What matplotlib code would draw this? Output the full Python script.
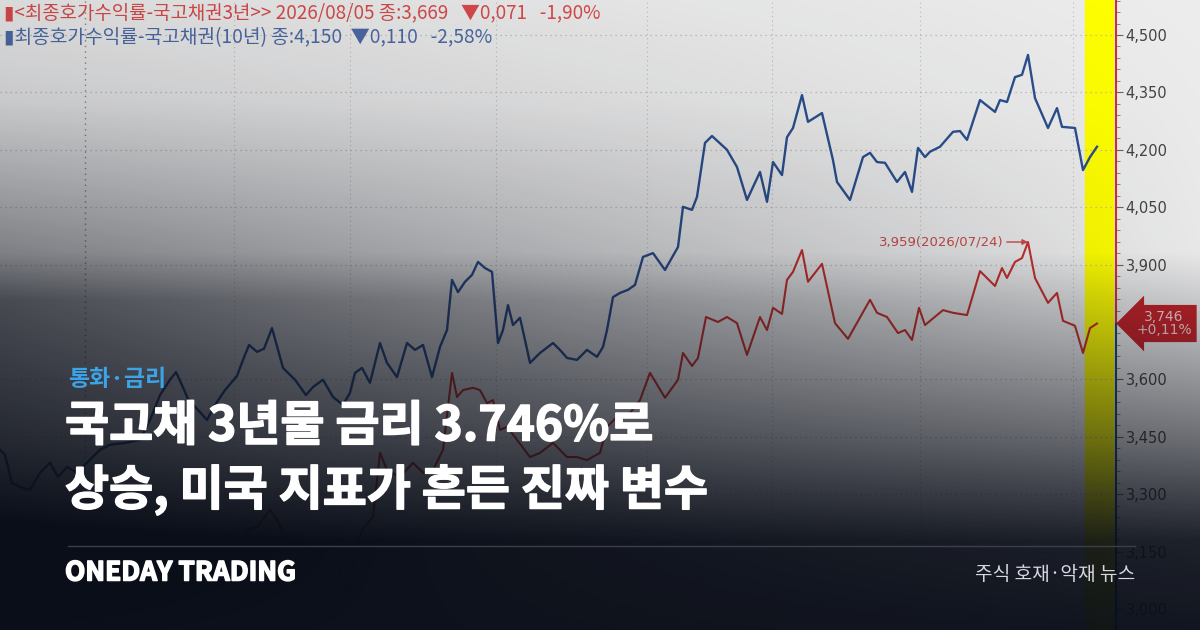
import numpy as np
import matplotlib.pyplot as plt
import matplotlib.patheffects as pe
from matplotlib.lines import Line2D
from matplotlib.ticker import MultipleLocator, FixedLocator, FixedFormatter
from matplotlib.transforms import blended_transform_factory

plt.rcParams['font.family'] = ['Noto Sans CJK KR', 'DejaVu Sans']

# 3-year KTB yield (red), position along the chart in sessions
t_3y = [0, 0.7, 1.5, 2.0, 3.3, 5.0, 6.5, 8.0, 9.5, 11.0,
        12.5, 14.0, 14.7, 16.0, 17.3, 18.2, 19.3, 20.0, 21.5, 23.3,
        24.7, 25.7, 27.0, 27.7, 28.7, 29.3, 30.0, 30.7, 31.7, 33.0,
        34.0, 34.7, 35.5, 36.2, 37.3, 38.0, 38.7, 40.0, 41.3,
        42.3, 43.3, 44.3, 45.2, 45.7, 46.3, 47.3, 48.0, 48.7, 49.3,
        50.0, 50.7, 51.7, 53.0, 54.0, 55.3, 56.7, 57.7, 58.7, 60.0,
        60.7, 61.7, 63.0, 64.0, 65.0, 66.5, 67.8, 68.3, 69.2, 69.8,
        70.6, 71.8, 72.7, 73.7, 74.7, 76.0, 76.7, 77.3, 78.2, 78.7,
        79.3, 80.2, 80.8, 82.2, 83.5, 84.8, 87.0, 87.7, 88.7, 89.8,
        90.5, 91.2, 91.9, 92.5, 94.3, 95.3, 96.7, 98.0, 99.5, 100.2,
        100.7, 101.5, 102.2, 102.8, 103.5, 104.8, 105.7, 106.3, 107.5, 108.3,
        109.0, 109.7]
ktb_3y = [3.050, 3.042, 2.997, 2.963, 2.979, 2.945, 2.958, 2.984, 2.958, 2.997,
          3.024, 3.050, 3.084, 3.115, 3.180, 3.128, 3.136, 3.120, 3.141, 3.154,
          3.207, 3.214, 3.259, 3.233, 3.180, 3.154, 3.173, 3.162, 3.146, 3.159,
          3.102, 3.042, 3.136, 3.207, 3.240, 3.408, 3.363, 3.345, 3.382,
          3.356, 3.363, 3.416, 3.617, 3.554, 3.572, 3.578, 3.572, 3.538, 3.546,
          3.468, 3.476, 3.442, 3.397, 3.408, 3.434, 3.397, 3.397, 3.389, 3.408,
          3.476, 3.502, 3.512, 3.546, 3.617, 3.552, 3.599, 3.669, 3.635, 3.656,
          3.763, 3.750, 3.763, 3.747, 3.664, 3.763, 3.729, 3.787, 3.771, 3.860,
          3.881, 3.938, 3.855, 3.902, 3.747, 3.706, 3.808, 3.774, 3.763, 3.721,
          3.729, 3.703, 3.787, 3.742, 3.781, 3.774, 3.768, 3.883, 3.844, 3.891,
          3.865, 3.907, 3.917, 3.959, 3.865, 3.800, 3.826, 3.753, 3.740, 3.669,
          3.734, 3.746]

# 10-year KTB yield (blue)
t_10y = [0, 0.5, 1.2, 2.0, 3.0, 4.0, 5.0, 5.8, 6.7, 7.7,
         8.7, 10.0, 11.0, 12.5, 14.0, 15.0, 16.0, 17.0, 17.6, 18.2,
         18.8, 19.8, 20.7, 21.5, 22.5, 23.7, 24.3, 24.9, 25.7, 26.4,
         27.2, 27.8, 28.3, 29.5, 30.6, 31.3, 32.3, 33.3, 34.3, 35.0,
         35.5, 36.2, 37.0, 38.0, 38.7, 39.7, 40.7, 41.5, 42.3, 43.2,
         44.0, 44.7, 45.2, 45.8, 46.5, 47.2, 47.8, 48.5, 49.2, 49.8,
         50.3, 50.8, 51.3, 52.0, 52.5, 53.0, 54.0, 55.3, 56.0, 56.7,
         57.7, 58.7, 59.7, 60.3, 60.7, 61.3, 62.0, 62.8, 63.5, 64.3,
         65.3, 66.5, 67.8, 68.3, 69.2, 69.7, 70.5, 71.2, 72.7, 73.7,
         74.7, 76.0, 76.7, 77.3, 78.2, 78.7, 79.3, 80.2, 80.8, 82.2,
         83.3, 83.7, 85.0, 86.3, 87.0, 87.7, 88.5, 89.7, 90.5, 91.2,
         91.8, 92.5, 93.0, 94.0, 95.3, 96.0, 96.7, 98.0, 99.5, 100.0,
         100.7, 101.5, 102.2, 102.8, 103.5, 104.8, 105.7, 106.2, 107.5, 108.3,
         109.0, 109.7]
ktb_10y = [3.416, 3.403, 3.329, 3.319, 3.311, 3.356, 3.382, 3.345, 3.371, 3.356,
           3.382, 3.416, 3.429, 3.434, 3.442, 3.494, 3.559, 3.599, 3.619, 3.585,
           3.549, 3.520, 3.494, 3.533, 3.572, 3.609, 3.651, 3.690, 3.672, 3.680,
           3.734, 3.677, 3.630, 3.599, 3.559, 3.580, 3.599, 3.554, 3.533, 3.565,
           3.617, 3.630, 3.591, 3.695, 3.643, 3.606, 3.695, 3.677, 3.690, 3.606,
           3.685, 3.729, 3.860, 3.828, 3.855, 3.873, 3.907, 3.891, 3.881, 3.695,
           3.729, 3.794, 3.742, 3.761, 3.703, 3.643, 3.669, 3.695, 3.677, 3.656,
           3.651, 3.677, 3.659, 3.685, 3.729, 3.815, 3.826, 3.834, 3.847, 3.920,
           3.930, 3.886, 3.946, 4.051, 4.043, 4.077, 4.218, 4.236, 4.200, 4.155,
           4.069, 4.142, 4.064, 4.168, 4.134, 4.233, 4.257, 4.343, 4.273, 4.296,
           4.173, 4.116, 4.069, 4.181, 4.192, 4.168, 4.166, 4.116, 4.142, 4.090,
           4.205, 4.181, 4.195, 4.208, 4.247, 4.249, 4.226, 4.330, 4.299, 4.330,
           4.325, 4.390, 4.396, 4.448, 4.335, 4.257, 4.309, 4.260, 4.257, 4.147,
           4.181, 4.208]

y_ticks = [3.000, 3.150, 3.300, 3.450, 3.600, 3.900, 4.050, 4.200, 4.350, 4.500]
y_tick_labels = [f"{v:.3f}".replace('.', ',') for v in y_ticks]
v_grid = [8.5, 23.4, 35.0, 49.6, 64.7, 77.2, 92.0, 107.3]

last_3y = 3.746
peak_3y, peak_t = 3.959, 102.8

legend_3y = "▮<최종호가수익률-국고채권3년>> 2026/08/05 종:3,669   ▼0,071   -1,90%"
legend_10y = "▮최종호가수익률-국고채권(10년) 종:4,150  ▼0,110   -2,58%"

RED = '#c8302c'
BLUE = '#2b4f8e'
BG = '#ececec'

fig = plt.figure(figsize=(12, 6.3), dpi=100, facecolor=BG)
ax = fig.add_axes([0, 0, 1116 / 1200, 1])
ax.set_facecolor(BG)
ax.set_xlim(0, 111.6)
ax.set_ylim(2.945, 4.5915)

for s in ax.spines.values():
    s.set_visible(False)

ax.yaxis.tick_right()
ax.yaxis.set_major_locator(FixedLocator(y_ticks))
ax.yaxis.set_major_formatter(FixedFormatter(y_tick_labels))
ax.yaxis.set_minor_locator(MultipleLocator(0.03))
ax.tick_params(axis='y', which='major', direction='out', length=5, color='#666',
               labelcolor='#444', labelsize=10.5, pad=2)
ax.tick_params(axis='y', which='minor', direction='out', length=3, color='#777')
for lab in ax.get_yticklabels():
    lab.set_family(['Liberation Sans Narrow', 'DejaVu Sans'])
ax.set_xticks([])

ax.grid(axis='y', which='major', ls=(0, (1, 3)), color='#b5b5b5', lw=0.9)
for i, xv in enumerate(v_grid):
    ax.axvline(xv, ls=(0, (1, 3)), color='#888' if i == 0 else '#bdbdbd', lw=1.0 if i == 0 else 0.8, zorder=0.5)

ax.axvspan(108.5, 111.3, color='#ffff00', zorder=1)

ax.plot(t_10y, ktb_10y, color=BLUE, lw=1.7, zorder=3)
ax.plot(t_3y, ktb_3y, color=RED, lw=1.5, zorder=3)

# right axis line: red above the current value, dark below
y0, y1 = ax.get_ylim()
frac = (last_3y - y0) / (y1 - y0)
ax.axvline(111.6, ymin=frac, ymax=1, color='#d03030', lw=1.5, clip_on=False, zorder=4)
ax.axvline(111.6, ymin=0, ymax=frac, color='#1d4a5a', lw=1.5, clip_on=False, zorder=4)

ax.annotate("3,959(2026/07/24)", xy=(peak_t, peak_3y), xytext=(100.4, peak_3y),
            ha='right', va='center', fontsize=9.5, color='#cc4a4a',
            family=['Liberation Sans Narrow', 'DejaVu Sans'],
            arrowprops=dict(arrowstyle='-|>', color='#cc4a4a', lw=1, mutation_scale=8,
                            shrinkA=0, shrinkB=0))

trans = blended_transform_factory(ax.transAxes, ax.transData)
ax.text(1.043, last_3y, "3,746\n+0,11%", transform=trans, ha='center', va='center',
        fontsize=10, color='#f6d6d6', linespacing=0.95, clip_on=False,
        family=['Liberation Sans Narrow', 'DejaVu Sans'], zorder=5,
        bbox=dict(boxstyle='larrow,pad=0.35', fc='#c42228', ec='none'))

ax.text(0.004, 1 - 13 / 630, legend_3y, transform=ax.transAxes, ha='left', va='center',
        fontsize=13.6, color='#d94a4a')
ax.text(0.004, 1 - 38 / 630, legend_10y, transform=ax.transAxes, ha='left', va='center',
        fontsize=13.8, color='#4d6aa6')

# dark gradient overlay
H, W = 630, 1200
yy, xx = np.mgrid[0:H, 0:W]
u = yy / (H - 1)
w = xx / (W - 1)
av = np.interp(u, [0, 0.40, 0.70, 0.86, 1], [0, 0.02, 0.58, 0.92, 0.97])
sv = np.interp(u, [0, 0.16, 0.476, 0.714, 0.87, 1], [0.08, 0.15, 0.57, 0.29, 0.1, 0.03])
alpha = np.clip(av + sv * (1 - w), 0, 1)
img = np.zeros((H, W, 4))
img[..., 0] = 10 / 255
img[..., 1] = 14 / 255
img[..., 2] = 24 / 255
img[..., 3] = alpha
ov = fig.add_axes([0, 0, 1, 1], zorder=2)
ov.imshow(img, aspect='auto', interpolation='bilinear')
ov.axis('off')

heavy = [pe.withStroke(linewidth=1.1, foreground='white')]
fig.text(68 / 1200, 1 - 380 / 630, "통화·금리", color='#3ba3e6', fontsize=16.5,
         weight='bold', va='center', zorder=5)
fig.text(65 / 1200, 1 - 426 / 630, "국고채 3년물 금리 3.746%로", color='white',
         fontsize=34.5, weight='bold', va='center', zorder=5, path_effects=heavy)
fig.text(65 / 1200, 1 - 490 / 630, "상승, 미국 지표가 흔든 진짜 변수", color='white',
         fontsize=34.5, weight='bold', va='center', zorder=5, path_effects=heavy)
fig.add_artist(Line2D([68 / 1200, 1135 / 1200], [1 - 546 / 630] * 2, color='#3a3f4a',
                      lw=1, zorder=5))
fig.text(65 / 1200, 1 - 573 / 630, "ONEDAY TRADING", color='white', fontsize=19,
         weight='bold', va='center', zorder=5, path_effects=heavy)
fig.text(1135 / 1200, 1 - 575 / 630, "주식 호재·악재 뉴스", color='#d4d8e0', fontsize=13.8,
         weight='medium', va='center', ha='right', zorder=5)

fig.savefig('out.png', dpi=100, facecolor=BG)
